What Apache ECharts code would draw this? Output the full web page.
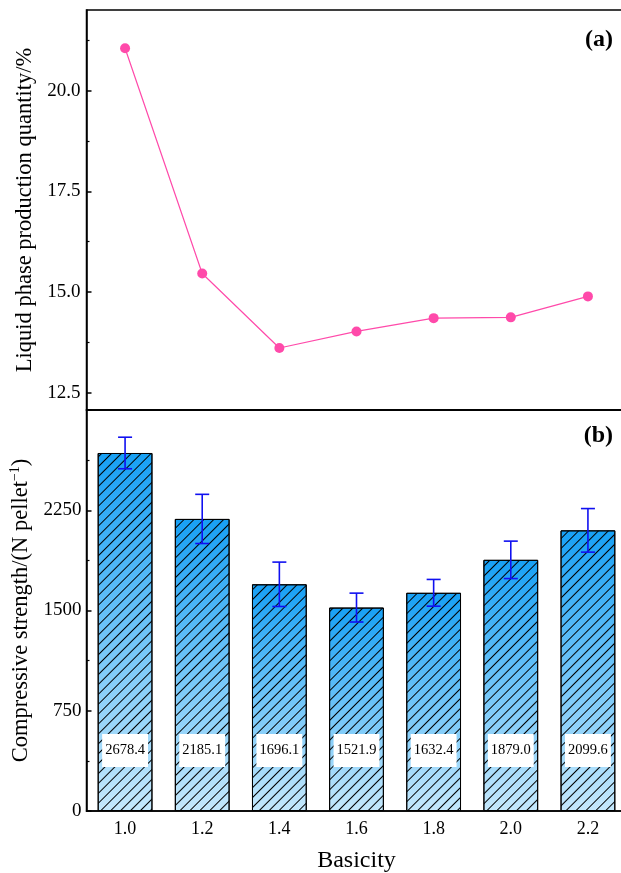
<!DOCTYPE html>
<html>
<head>
<meta charset="utf-8">
<script src="https://cdn.jsdelivr.net/npm/echarts@6/dist/echarts.min.js"></script>
<style>
  html, body { margin: 0; padding: 0; background: #fff; }
  #chart { width: 621px; height: 873px; }
</style>
</head>
<body>
<div id="chart"></div>
<script>
// Basicity levels shared by both panels
const basicity = ['1.0', '1.2', '1.4', '1.6', '1.8', '2.0', '2.2'];
// (a) liquid phase production quantity, %
const liquidPhase = [21.05, 15.46, 13.61, 14.02, 14.35, 14.37, 14.89];
// (b) compressive strength, N per pellet, with standard deviation
const strength = [2678.4, 2185.1, 1696.1, 1521.9, 1632.4, 1879.0, 2099.6];
const strengthErr = [118, 184, 166, 108, 100, 140, 163];
// tick values
const liquidTicks = [12.5, 15.0, 17.5, 20.0];
const liquidMinorTicks = [13.75, 16.25, 18.75, 21.25];
const strengthTicks = [0, 750, 1500, 2250];

const FONT = '"Liberation Serif", "DejaVu Serif", serif';
const chart = echarts.init(document.getElementById('chart'), null, { renderer: 'canvas' });

const errData = strength.map((v, i) => [i, v - strengthErr[i], v + strengthErr[i]]);

const gridBase = { left: 86.5, width: 540, show: true, borderColor: '#000', borderWidth: 1.5,
                   backgroundColor: 'transparent', containLabel: false, outerBoundsMode: 'none' };

const option = {
  backgroundColor: '#fff',
  animation: false,
  textStyle: { fontFamily: FONT, color: '#000' },
  grid: [
    Object.assign({ top: 10, height: 400 }, gridBase),
    Object.assign({ top: 410, height: 401 }, gridBase)
  ],
  xAxis: [
    {
      type: 'category', gridIndex: 0, data: basicity, boundaryGap: true,
      axisLine: { lineStyle: { color: '#000', width: 1.5 } },
      axisTick: { inside: true, alignWithLabel: true, length: 7, lineStyle: { color: '#000', width: 1.5 } },
      axisLabel: { show: false }
    },
    {
      type: 'category', gridIndex: 1, data: basicity, boundaryGap: true,
      axisLine: { lineStyle: { color: '#000', width: 1.5 } },
      axisTick: { inside: true, alignWithLabel: true, length: 5, lineStyle: { color: '#000', width: 1.5 } },
      axisLabel: { fontFamily: FONT, fontSize: 18, color: '#000', margin: 9 },
      name: 'Basicity', nameLocation: 'middle', nameGap: 38,
      nameTextStyle: { fontFamily: FONT, fontSize: 24, color: '#000' }
    }
  ],
  yAxis: [
    {
      type: 'value', gridIndex: 0, position: 'left', min: 12.07, max: 22,
      axisLine: { show: true, lineStyle: { color: '#000', width: 1.5 } },
      axisTick: { show: true, inside: true, length: 5, customValues: liquidTicks, lineStyle: { color: '#000', width: 1.5 } },
      axisLabel: { customValues: liquidTicks, fontFamily: FONT, fontSize: 19, color: '#000', margin: 6,
                   formatter: v => Number(v).toFixed(1) },
      splitLine: { show: false },
      name: 'Liquid phase production quantity/%', nameLocation: 'middle', nameGap: 50,
      nameTextStyle: { fontFamily: FONT, fontSize: 22.5, color: '#000' }
    },
    {
      type: 'value', gridIndex: 0, position: 'left', offset: 0, min: 12.07, max: 22,
      axisLine: { show: false },
      axisTick: { show: true, inside: true, length: 3, customValues: liquidMinorTicks, lineStyle: { color: '#000', width: 1.2 } },
      axisLabel: { show: false },
      splitLine: { show: false }
    },
    {
      type: 'value', gridIndex: 1, position: 'left', min: 0, max: 3000, interval: 750,
      axisLine: { show: true, lineStyle: { color: '#000', width: 1.5 } },
      axisTick: { show: true, inside: true, length: 5, lineStyle: { color: '#000', width: 1.5 } },
      minorTick: { show: true, splitNumber: 2, length: 3, lineStyle: { color: '#000', width: 1.2 } },
      axisLabel: { customValues: strengthTicks, fontFamily: FONT, fontSize: 19, color: '#000', margin: 5,
                   formatter: v => String(v) },
      splitLine: { show: false },
      name: 'Compressive strength/(N pellet{sup|−1})', nameLocation: 'middle', nameGap: 50,
      nameTextStyle: { fontFamily: FONT, fontSize: 22.5, color: '#000',
        rich: { sup: { fontFamily: FONT, fontSize: 14, verticalAlign: 'top', padding: [0, 0, 11, 0], color: '#000' } } }
    }
  ],
  graphic: [
    { type: 'text', right: 8, top: 28, style: { text: '(a)', font: 'bold 24px ' + FONT, fill: '#000' } },
    { type: 'text', right: 8, top: 424, style: { text: '(b)', font: 'bold 24px ' + FONT, fill: '#000' } }
  ],
  series: [
    {
      type: 'line', xAxisIndex: 0, yAxisIndex: 0, data: liquidPhase,
      symbol: 'circle', symbolSize: 10,
      lineStyle: { color: '#FF4AAA', width: 1.2 },
      itemStyle: { color: '#FF4AAA' }
    },
    {
      type: 'bar', xAxisIndex: 1, yAxisIndex: 2, data: strength, barWidth: '71%',
      itemStyle: {
        color: new echarts.graphic.LinearGradient(0, 0, 0, 1, [
          { offset: 0, color: '#17A0F5' },
          { offset: 1, color: '#C5E8FC' }
        ]),
        borderColor: '#000', borderWidth: 1,
        decal: { symbol: 'rect', symbolSize: 1, dashArrayX: [1, 0], dashArrayY: [1, 6], rotation: -Math.PI / 4, color: '#000' }
      },
      label: {
        show: true, position: 'insideBottom', distance: 44,
        formatter: p => Number(p.value).toFixed(1),
        fontFamily: FONT, fontSize: 14.5, color: '#000',
        backgroundColor: '#fff', padding: [9, 3]
      }
    },
    {
      type: 'custom', xAxisIndex: 1, yAxisIndex: 2, data: errData, z: 10,
      renderItem: function (params, api) {
        const x = api.value(0);
        const lo = api.coord([x, api.value(1)]);
        const hi = api.coord([x, api.value(2)]);
        const half = 7;
        const st = { stroke: '#1010F0', lineWidth: 1.6 };
        return {
          type: 'group',
          children: [
            { type: 'line', shape: { x1: hi[0], y1: hi[1], x2: lo[0], y2: lo[1] }, style: st },
            { type: 'line', shape: { x1: hi[0] - half, y1: hi[1], x2: hi[0] + half, y2: hi[1] }, style: st },
            { type: 'line', shape: { x1: lo[0] - half, y1: lo[1], x2: lo[0] + half, y2: lo[1] }, style: st }
          ]
        };
      }
    }
  ]
};
chart.setOption(option);
</script>
</body>
</html>
